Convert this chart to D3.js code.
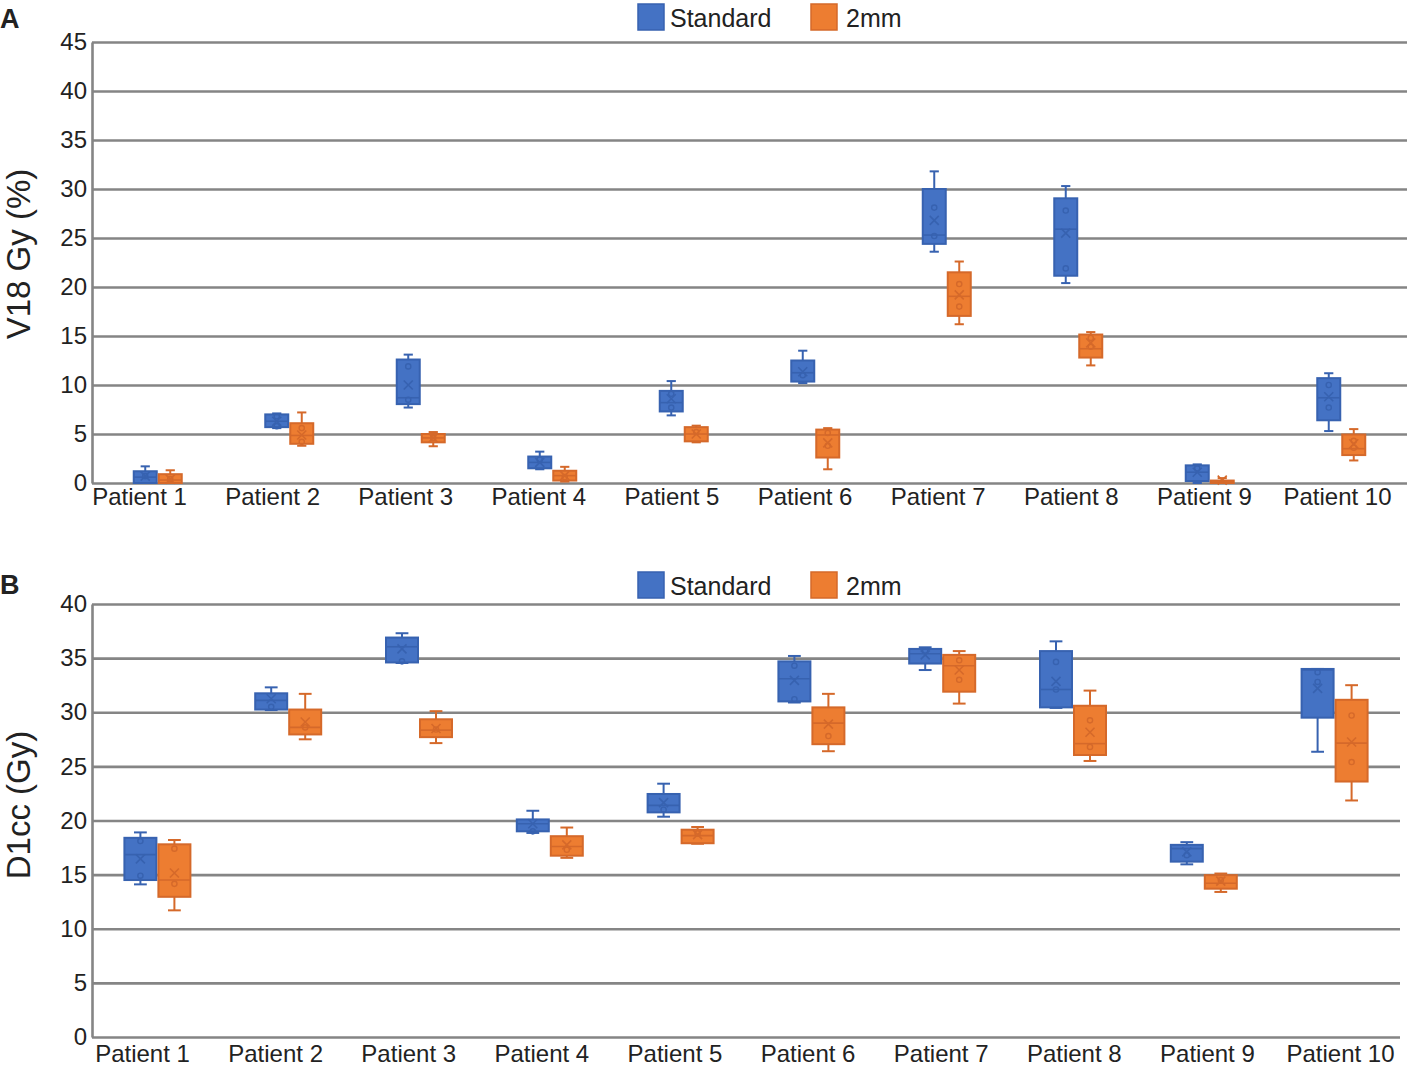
<!DOCTYPE html>
<html>
<head>
<meta charset="utf-8">
<script src="https://cdn.jsdelivr.net/npm/d3@7"></script>
<style>
  body { margin: 0; background: #fff; }
  text { font-family: "Liberation Sans", Arial, sans-serif; fill: #222; }
</style>
</head>
<body>
<div id="chart"></div>
<script>
var patients = ["Patient 1", "Patient 2", "Patient 3", "Patient 4", "Patient 5",
                "Patient 6", "Patient 7", "Patient 8", "Patient 9", "Patient 10"];
var seriesNames = ["Standard", "2mm"];

// each box: [min, q1, median, q3, max, mean]
var v18Standard = [
  [0, 0, 0.6, 1.2, 1.7, 0.7], [5.6, 5.7, 6.3, 7.0, 7.1, 6.3], [7.7, 8.05, 8.7, 12.6, 13.1, 10.0],
  [1.4, 1.5, 2.1, 2.7, 3.2, 2.1], [6.9, 7.3, 8.2, 9.4, 10.4, 8.6], [10.2, 10.35, 11.25, 12.5, 13.5, 11.35],
  [23.6, 24.4, 25.3, 30.0, 31.8, 26.8], [20.4, 21.15, 25.9, 29.05, 30.3, 25.5], [0, 0.2, 1.1, 1.8, 1.9, 1.1],
  [5.3, 6.4, 8.7, 10.7, 11.2, 8.8]
];
var v18Mm2 = [
  [0, 0, 0.3, 0.9, 1.3, 0.4], [3.8, 4.0, 4.85, 6.1, 7.2, 4.9], [3.75, 4.15, 4.6, 5.0, 5.2, 4.6],
  [0.15, 0.25, 0.75, 1.25, 1.65, 0.75], [4.15, 4.25, 5.0, 5.7, 5.85, 5.0], [1.4, 2.6, 4.9, 5.45, 5.6, 4.1],
  [16.2, 17.05, 19.05, 21.5, 22.6, 19.2], [12.0, 12.8, 13.7, 15.15, 15.4, 14.3], [0, 0, 0.1, 0.25, 0.5, 0.3],
  [2.3, 2.85, 3.5, 4.95, 5.5, 4.0]
];
var v18StandardPts = [[0.7], [6.8, 5.8], [11.9, 8.5], [2.4], [9.1, 7.7], [11.0], [28.1, 25.2], [27.8, 21.9], [1.5], [10.0, 7.7]];
var v18Mm2Pts = [[0.4], [5.6, 4.2], [4.6], [0.6], [5.2], [5.1, 3.8], [20.3, 18.0], [14.8, 13.9], [], [4.3, 3.6]];

var d1ccStandard = [
  [14.1, 14.5, 16.85, 18.4, 18.9, 16.45], [30.2, 30.25, 31.1, 31.75, 32.3, 31.25], [34.55, 34.6, 36.05, 36.9, 37.3, 35.85],
  [18.85, 19.0, 19.7, 20.1, 20.9, 19.7], [20.35, 20.75, 21.4, 22.45, 23.4, 21.65], [30.9, 31.0, 33.1, 34.7, 35.2, 32.95],
  [33.9, 34.5, 35.4, 35.85, 36.0, 35.3], [30.4, 30.45, 32.1, 35.65, 36.55, 32.85], [15.95, 16.2, 17.4, 17.75, 18.0, 17.1],
  [26.35, 29.5, 33.9, 34.0, 34.0, 32.2]
];
var d1ccMm2 = [
  [11.7, 12.95, 14.5, 17.8, 18.2, 15.15], [27.5, 27.95, 28.6, 30.25, 31.7, 29.1], [27.15, 27.7, 28.35, 29.35, 30.1, 28.5],
  [16.55, 16.75, 17.6, 18.55, 19.35, 17.75], [17.85, 17.9, 18.6, 19.15, 19.4, 18.7], [26.4, 27.05, 29.0, 30.45, 31.7, 28.9],
  [30.8, 31.9, 34.3, 35.3, 35.65, 33.9], [25.5, 26.05, 27.1, 30.6, 32.0, 28.15], [13.4, 13.7, 14.2, 14.95, 15.1, 14.4],
  [21.85, 23.6, 27.15, 31.15, 32.5, 27.25]
];
var d1ccStandardPts = [[18.1, 14.9], [30.5], [34.7], [19.0], [21.0], [34.3, 31.2], [35.7], [34.65, 32.1], [16.8], [33.7, 32.8]];
var d1ccMm2Pts = [[17.4, 14.15], [28.6], [28.4], [17.3], [18.8], [27.8], [34.8, 33.0], [29.25, 26.8], [14.5], [29.7, 25.4]];

var v18Ticks = [0, 5, 10, 15, 20, 25, 30, 35, 40, 45];
var d1ccTicks = [0, 5, 10, 15, 20, 25, 30, 35, 40];

var fills = ["#4472C4", "#ED7D31"];
var strokes = ["#3762B0", "#D5692A"];
var gridColor = "#858585";

var svg = d3.select("#chart").append("svg")
    .attr("width", 1407)
    .attr("height", 1069);

function drawPanel(cfg) {
  var g = svg.append("g");

  var y = d3.scaleLinear().domain([0, d3.max(cfg.ticks)]).range([cfg.bottom, cfg.top]);
  var x = d3.scaleBand().domain(patients).range([cfg.left, cfg.right]);
  var pairW = 2 * cfg.boxW + cfg.gap;
  var sub = d3.scaleBand().domain(seriesNames)
      .range([(x.bandwidth() - pairW) / 2, (x.bandwidth() + pairW) / 2])
      .paddingInner(cfg.gap / (cfg.boxW + cfg.gap));

  // gridlines + y labels
  var yAxis = g.append("g")
      .attr("transform", "translate(" + cfg.left + ",0)")
      .call(d3.axisLeft(y).tickValues(cfg.ticks)
        .tickSize(-(cfg.right - cfg.left)).tickSizeOuter(0).tickPadding(5));
  yAxis.selectAll(".tick line").attr("stroke", gridColor).attr("stroke-width", 2.6);
  yAxis.select(".domain").attr("stroke", gridColor).attr("stroke-width", 2.6);
  yAxis.selectAll(".tick text").attr("font-size", 24).attr("fill", "#222")
      .attr("font-family", "Liberation Sans, Arial, sans-serif");

  // x labels
  var xl = d3.scalePoint().domain(patients).range(cfg.labelRange);
  var xAxis = g.append("g")
      .attr("transform", "translate(0," + cfg.bottom + ")")
      .call(d3.axisBottom(xl).tickSize(0).tickPadding(cfg.labelPad));
  xAxis.select(".domain").remove();
  xAxis.selectAll(".tick text").attr("font-size", 24).attr("fill", "#222")
      .attr("font-family", "Liberation Sans, Arial, sans-serif");

  // y title
  g.append("text")
      .attr("transform", "translate(" + cfg.titleX + "," + cfg.titleY + ") rotate(-90)")
      .attr("text-anchor", "middle")
      .attr("font-size", 33)
      .text(cfg.title);

  // panel letter
  g.append("text")
      .attr("x", 0).attr("y", cfg.letterY)
      .attr("font-size", 27).attr("font-weight", "bold")
      .attr("fill", "#000")
      .text(cfg.letter);

  // legend
  var leg = g.append("g").attr("transform", "translate(0," + cfg.legendY + ")");
  var legX = [638, 811];
  seriesNames.forEach(function(name, i) {
    leg.append("rect")
        .attr("x", legX[i]).attr("y", 0)
        .attr("width", 26).attr("height", 26)
        .attr("fill", fills[i]).attr("stroke", strokes[i]).attr("stroke-width", 1.5);
    leg.append("text")
        .attr("x", legX[i] + (i ? 35 : 32)).attr("y", 23)
        .attr("font-size", 25)
        .text(name);
  });

  // boxes
  cfg.series.forEach(function(data, si) {
    var sg = g.append("g");
    var capW = cfg.boxW * 0.4;
    data.forEach(function(d, i) {
      var x0 = x(patients[i]) + sub(seriesNames[si]);
      var cx = x0 + cfg.boxW / 2;
      var b = sg.append("g");
      // whiskers
      b.append("line").attr("x1", cx).attr("x2", cx).attr("y1", y(d[0])).attr("y2", y(d[1]))
          .attr("stroke", strokes[si]).attr("stroke-width", 2);
      b.append("line").attr("x1", cx).attr("x2", cx).attr("y1", y(d[3])).attr("y2", y(d[4]))
          .attr("stroke", strokes[si]).attr("stroke-width", 2);
      [d[0], d[4]].forEach(function(v) {
        b.append("line").attr("x1", cx - capW / 2).attr("x2", cx + capW / 2)
            .attr("y1", y(v)).attr("y2", y(v))
            .attr("stroke", strokes[si]).attr("stroke-width", 2);
      });
      // box
      b.append("rect")
          .attr("x", x0).attr("y", y(d[3]))
          .attr("width", cfg.boxW).attr("height", Math.max(1, y(d[1]) - y(d[3])))
          .attr("fill", fills[si]).attr("stroke", strokes[si]).attr("stroke-width", 2);
      // median
      b.append("line").attr("x1", x0).attr("x2", x0 + cfg.boxW)
          .attr("y1", y(d[2])).attr("y2", y(d[2]))
          .attr("stroke", strokes[si]).attr("stroke-width", 1.6);
      // inner points
      cfg.points[si][i].forEach(function(v) {
        b.append("circle").attr("cx", cx).attr("cy", y(v)).attr("r", 2.6)
            .attr("fill", "none").attr("stroke", strokes[si]).attr("stroke-width", 1.4);
      });
      // mean marker
      var m = 4.5, my = y(d[5]);
      b.append("path")
          .attr("d", "M" + (cx - m) + "," + (my - m) + "L" + (cx + m) + "," + (my + m) +
                     "M" + (cx + m) + "," + (my - m) + "L" + (cx - m) + "," + (my + m))
          .attr("stroke", strokes[si]).attr("stroke-width", 1.6);
    });
  });
}

drawPanel({
  top: 42, bottom: 483, left: 92, right: 1407,
  ticks: v18Ticks, series: [v18Standard, v18Mm2], points: [v18StandardPts, v18Mm2Pts],
  boxW: 23, gap: 2, labelRange: [139, 1337], labelPad: 5,
  title: "V18 Gy (%)", titleX: 30, titleY: 254, letter: "A", letterY: 28, legendY: 4
});

drawPanel({
  top: 604, bottom: 1037, left: 92, right: 1400,
  ticks: d1ccTicks, series: [d1ccStandard, d1ccMm2], points: [d1ccStandardPts, d1ccMm2Pts],
  boxW: 32, gap: 2, labelRange: [142, 1340], labelPad: 8,
  title: "D1cc (Gy)", titleX: 30, titleY: 805, letter: "B", letterY: 594, legendY: 572
});
</script>
</body>
</html>
